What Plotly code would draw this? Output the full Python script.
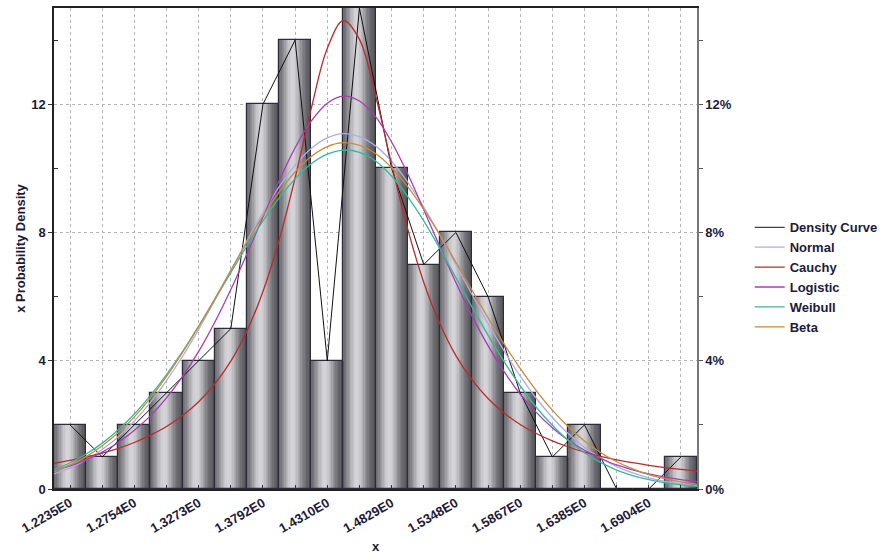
import plotly.graph_objects as go
import math

# ---------------- data ----------------
bin_centers = [1.22350, 1.24944, 1.27538, 1.30132, 1.32726, 1.35320, 1.37913, 1.40507,
               1.43101, 1.45695, 1.48289, 1.50883, 1.53477, 1.56071, 1.58665, 1.61259,
               1.63852, 1.66446, 1.69040, 1.71634]
counts = [2, 1, 2, 3, 4, 5, 12, 14, 4, 15, 10, 7, 8, 6, 3, 1, 2, 0, 0, 1]
bin_width = 0.025939

tick_vals = [1.22350, 1.27538, 1.32726, 1.37913, 1.43101, 1.48289, 1.53477, 1.58665, 1.63852, 1.69040]
tick_labels = ["1.2235E0", "1.2754E0", "1.3273E0", "1.3792E0", "1.4310E0",
               "1.4829E0", "1.5348E0", "1.5867E0", "1.6385E0", "1.6904E0"]

curve_x = [1.21053, 1.22350, 1.23647, 1.24944, 1.26241, 1.27538, 1.28835, 1.30132, 1.31429,
           1.32726, 1.34023, 1.35320, 1.36617, 1.37913, 1.39210, 1.40507, 1.41804, 1.43101,
           1.44398, 1.45695, 1.46992, 1.48289, 1.49586, 1.50883, 1.52180, 1.53477, 1.54774,
           1.56071, 1.57368, 1.58665, 1.59962, 1.61259, 1.62556, 1.63852, 1.65149, 1.66446,
           1.67743, 1.69040, 1.70337, 1.71634, 1.72931]
normal_y = [0.47, 0.66, 0.91, 1.23, 1.63, 2.12, 2.70, 3.38, 4.14, 4.98, 5.88, 6.81, 7.74, 8.62,
            9.42, 10.10, 10.62, 10.95, 11.08, 10.99, 10.70, 10.22, 9.57, 8.79, 7.92, 7.00, 6.07,
            5.16, 4.31, 3.52, 2.83, 2.23, 1.72, 1.30, 0.97, 0.70, 0.50, 0.35, 0.24, 0.16, 0.11]
cauchy_y = [0.80, 0.89, 1.00, 1.12, 1.27, 1.45, 1.68, 1.95, 2.29, 2.72, 3.28, 3.99, 4.93, 6.16,
            7.75, 9.70, 11.86, 13.74, 14.61, 14.02, 12.28, 10.13, 8.11, 6.45, 5.16, 4.16, 3.41,
            2.82, 2.37, 2.01, 1.73, 1.50, 1.31, 1.15, 1.02, 0.91, 0.82, 0.74, 0.67, 0.61, 0.56]
logistic_y = [0.57, 0.72, 0.91, 1.15, 1.45, 1.83, 2.28, 2.84, 3.51, 4.29, 5.20, 6.22, 7.33, 8.48,
              9.61, 10.64, 11.47, 12.03, 12.25, 12.10, 11.61, 10.82, 9.83, 8.71, 7.56, 6.44, 5.40,
              4.47, 3.66, 2.96, 2.39, 1.91, 1.52, 1.21, 0.96, 0.75, 0.60, 0.47, 0.37, 0.29, 0.23]
weibull_y = [0.60, 0.82, 1.09, 1.43, 1.85, 2.34, 2.92, 3.57, 4.29, 5.08, 5.91, 6.75, 7.58, 8.36,
             9.07, 9.67, 10.14, 10.44, 10.57, 10.50, 10.23, 9.76, 9.12, 8.36, 7.50, 6.59, 5.68,
             4.80, 3.97, 3.22, 2.55, 1.99, 1.51, 1.13, 0.83, 0.59, 0.42, 0.29, 0.19, 0.13, 0.08]
beta_y = [0.54, 0.75, 1.01, 1.35, 1.76, 2.25, 2.84, 3.51, 4.26, 5.07, 5.93, 6.82, 7.69, 8.52,
          9.26, 9.89, 10.37, 10.68, 10.80, 10.72, 10.46, 10.02, 9.43, 8.72, 7.93, 7.07, 6.20,
          5.34, 4.52, 3.76, 3.07, 2.46, 1.94, 1.50, 1.14, 0.85, 0.63, 0.45, 0.32, 0.22, 0.15]

total = sum(counts)
percent = [c * 100.0 / total for c in counts]

# ---------------- figure ----------------
fig = go.Figure()

# gradient-shaded bars built from overlapping stripes
N = 24
for k in range(N):
    t = (k + 0.5) / N
    b = int(82 + 130 * math.exp(-((t - 0.42) / 0.32) ** 2))
    col = f"rgb({b},{b},{min(255, b + 5)})"
    start = k * bin_width / N
    fig.add_trace(go.Bar(
        x=bin_centers, y=counts,
        width=bin_width - start,
        offset=-bin_width / 2 + start,
        marker=dict(color=col, line=dict(width=0)),
        showlegend=False, hoverinfo="skip"))

# bar outlines
fig.add_trace(go.Bar(
    x=bin_centers, y=counts, width=bin_width,
    marker=dict(color="rgba(0,0,0,0)", line=dict(color="#2c2c3c", width=1.2)),
    showlegend=False, hoverinfo="skip"))

fig.add_trace(go.Scatter(x=bin_centers, y=counts, mode="lines", name="Density Curve",
                         line=dict(color="#111111", width=1)))
fig.add_trace(go.Scatter(x=curve_x, y=normal_y, mode="lines", name="Normal",
                         line=dict(color="#a9aee6", width=1.3, shape="spline")))
fig.add_trace(go.Scatter(x=curve_x, y=cauchy_y, mode="lines", name="Cauchy",
                         line=dict(color="#bb2a2a", width=1.3, shape="spline")))
fig.add_trace(go.Scatter(x=curve_x, y=logistic_y, mode="lines", name="Logistic",
                         line=dict(color="#a83cb4", width=1.3, shape="spline")))
fig.add_trace(go.Scatter(x=curve_x, y=weibull_y, mode="lines", name="Weibull",
                         line=dict(color="#36b89a", width=1.3, shape="spline")))
fig.add_trace(go.Scatter(x=curve_x, y=beta_y, mode="lines", name="Beta",
                         line=dict(color="#c88a3c", width=1.3, shape="spline")))

# invisible trace for the percentage axis
fig.add_trace(go.Scatter(x=bin_centers, y=percent, yaxis="y2", mode="markers",
                         marker=dict(opacity=0), showlegend=False, hoverinfo="skip"))

font_main = dict(family="Liberation Sans, Arial, sans-serif", size=13, color="#1c1c3a", weight="bold")
font_legend = dict(family="Liberation Sans, Arial, sans-serif", size=13, color="#1c1c3a", weight="bold")

fig.update_layout(
    width=888, height=554,
    margin=dict(l=54, r=191, t=8, b=65, autoexpand=False),
    paper_bgcolor="white", plot_bgcolor="white",
    barmode="overlay", bargap=0,
    font=font_main,
    showlegend=True,
    legend=dict(x=1.082, y=0.44, xanchor="left", yanchor="middle",
                font=font_legend, itemwidth=30, tracegroupgap=0,
                bgcolor="rgba(0,0,0,0)"),
    xaxis=dict(
        range=[1.21053, 1.72931],
        tickmode="array", tickvals=tick_vals, ticktext=tick_labels,
        tickangle=-30, ticks="inside", ticklen=4, tickcolor="#333",
        showgrid=True, gridcolor="#b4b4b4", griddash="dot", gridwidth=1,
        minor=dict(tickmode="array", tickvals=bin_centers, ticks="inside", ticklen=4,
                   tickcolor="#333", showgrid=True, gridcolor="#b4b4b4", griddash="dot"),
        showline=True, linecolor="#222", linewidth=1.5, mirror=True,
        zeroline=False, automargin=False,
        title=dict(text="x", font=font_main, standoff=12),
        tickfont=font_main,
    ),
    yaxis=dict(
        range=[0, 15],
        tickmode="array", tickvals=[0, 4, 8, 12],
        ticks="outside", ticklen=4, tickcolor="#333",
        showgrid=True, gridcolor="#b4b4b4", griddash="dot", gridwidth=1,
        minor=dict(tickmode="array", tickvals=[2, 6, 10, 14], ticks="inside", ticklen=4,
                   tickcolor="#333", showgrid=False),
        showline=True, linecolor="#222", linewidth=1.5,
        zeroline=False, automargin=False,
        title=dict(text="x Probability Density", font=font_main, standoff=3),
        tickfont=font_main,
    ),
    yaxis2=dict(
        range=[0, 15], overlaying="y", side="right",
        tickmode="array", tickvals=[0, 4, 8, 12], ticktext=["0%", "4%", "8%", "12%"],
        ticks="outside", ticklen=4, tickcolor="#555",
        minor=dict(tickmode="array", tickvals=[2, 6, 10, 14], ticks="outside", ticklen=4,
                   tickcolor="#555"),
        showgrid=False, zeroline=False, automargin=False,
        showline=True, linecolor="#777", linewidth=1.5,
        tickfont=font_main,
    ),
)

fig.write_html("out.html")
